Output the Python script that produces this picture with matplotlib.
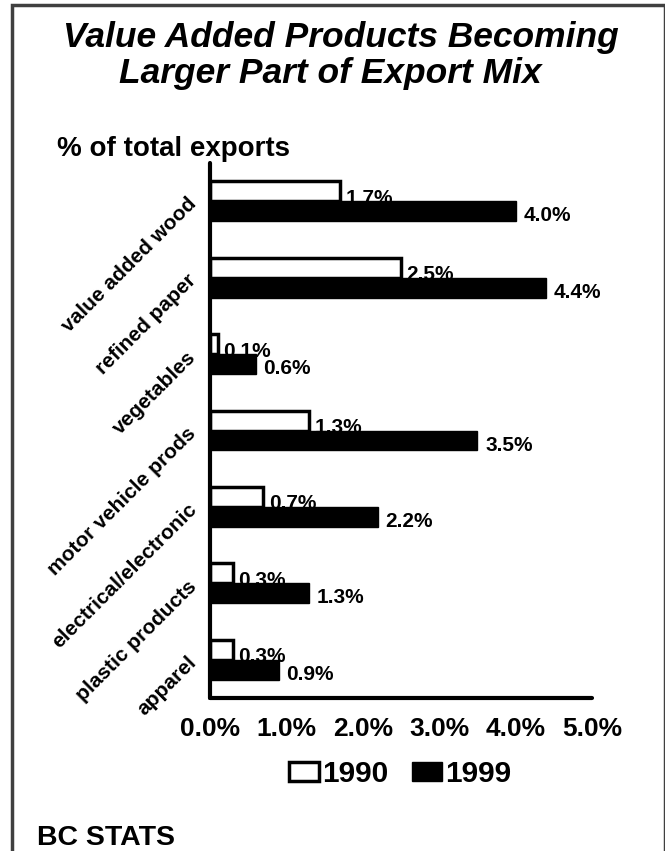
import matplotlib
matplotlib.use("Agg")
import matplotlib.pyplot as plt
from matplotlib.patches import Rectangle
import numpy as np

categories = ["value added wood", "refined paper", "vegetables", "motor vehicle prods",
              "electrical/electronic", "plastic products", "apparel"]
values_1990 = [1.7, 2.5, 0.1, 1.3, 0.7, 0.3, 0.3]
values_1999 = [4.0, 4.4, 0.6, 3.5, 2.2, 1.3, 0.9]
series_names = ["1990", "1999"]
xticks = [0.0, 1.0, 2.0, 3.0, 4.0, 5.0]

plt.rcParams['font.family'] = ['Liberation Sans', 'DejaVu Sans']
plt.rcParams['font.weight'] = 'bold'

fig = plt.figure(figsize=(6.65, 8.51), dpi=100)
W, H = 665, 851
ax = fig.add_axes([210 / W, 1 - 698 / H, (592 - 210) / W, (698 - 163) / H])

y = np.arange(len(categories))
bh = 0.26
ax.barh(y - bh / 2, values_1990, height=bh, color='white', edgecolor='black',
        linewidth=2.5, zorder=2, label=series_names[0])
ax.barh(y + bh / 2, values_1999, height=bh, color='black', edgecolor='black',
        linewidth=1, zorder=4, label=series_names[1])

for i, v in enumerate(values_1990):
    ax.text(v + 0.07, i - 0.04, f"{v:.1f}%", ha='left', va='center',
            fontsize=15, fontweight='bold', zorder=3)
for i, v in enumerate(values_1999):
    ax.text(v + 0.1, i + 0.19, f"{v:.1f}%", ha='left', va='center',
            fontsize=15, fontweight='bold', zorder=5)

ax.set_xlim(0, 5)
ax.set_ylim(6.5, -0.5)
ax.set_xticks(xticks)
ax.set_xticklabels([f"{t:.1f}%" for t in xticks], fontsize=19, fontweight='bold')
ax.set_yticks(y)
ax.set_yticklabels(categories, fontsize=15, fontweight='bold', rotation=45,
                   ha='right', va='center', rotation_mode='anchor')
ax.tick_params(axis='both', length=0)
ax.tick_params(axis='x', pad=14)
ax.tick_params(axis='y', pad=12)
for s in ['top', 'right']:
    ax.spines[s].set_visible(False)
for s in ['left', 'bottom']:
    ax.spines[s].set_linewidth(3)
    ax.spines[s].set_capstyle('round')

fig.text(341 / W, 1 - 47 / H, "Value Added Products Becoming", ha='center', va='baseline',
         fontsize=25.5, fontweight='bold', fontstyle='italic')
fig.text(330 / W, 1 - 83 / H, "Larger Part of Export Mix", ha='center', va='baseline',
         fontsize=25.5, fontweight='bold', fontstyle='italic')
fig.text(57 / W, 1 - 156 / H, "% of total exports", ha='left', va='baseline',
         fontsize=20, fontweight='bold')
fig.text(37 / W, 1 - 845 / H, "BC STATS", ha='left', va='baseline',
         fontsize=20.5, fontweight='bold')

leg = fig.legend(loc='center', bbox_to_anchor=(400 / W, 1 - 774 / H), ncol=2,
                 frameon=False, handlelength=1.0, handleheight=0.65,
                 handletextpad=0.1, columnspacing=0.8, prop={'weight': 'bold', 'size': 21.5})

border = Rectangle((12 / W, -20 / H), (W - 12) / W, 1 + 15 / H, transform=fig.transFigure,
                   fill=False, edgecolor='#404040', linewidth=2.5)
fig.patches.append(border)

fig.savefig("out.png", dpi=100, facecolor='white')
